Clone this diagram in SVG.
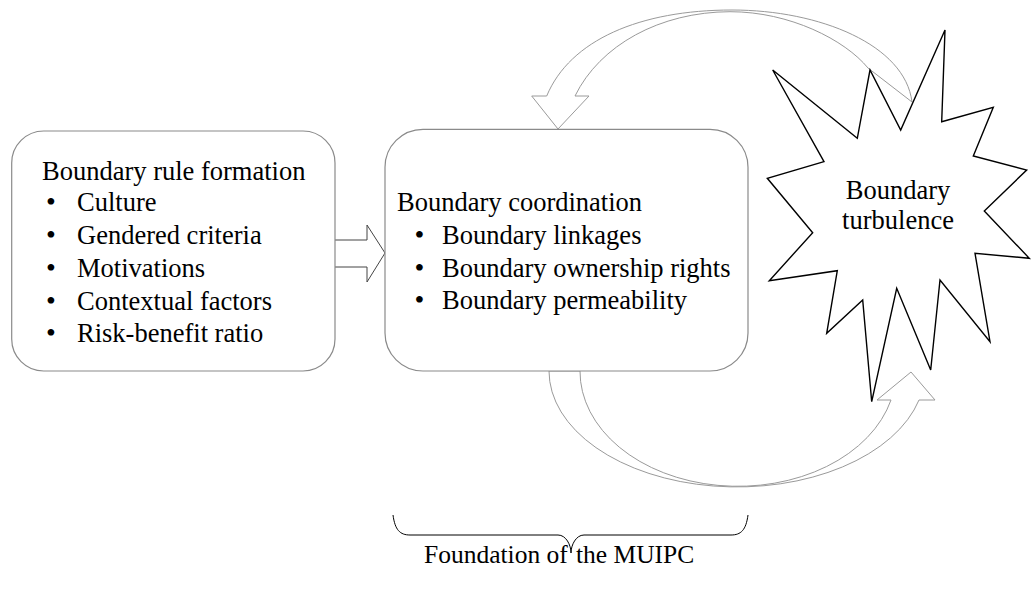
<svg xmlns="http://www.w3.org/2000/svg" width="1033" height="590" viewBox="0 0 1033 590">
<style>
text{font-family:"Liberation Serif","Times New Roman",serif;font-size:26.5px;fill:#000}
.box{fill:#fff;stroke:#8a8a8a;stroke-width:1.2}
.arr{fill:#fff;stroke:#9a9a9a;stroke-width:1}
.blk{fill:#fff;stroke:#444;stroke-width:1}
.star{fill:#fff;stroke:#000;stroke-width:1.4;stroke-linejoin:miter}
.bul{font-size:28px}
</style>
<rect width="1033" height="590" fill="#fff"/>
<g id="connectors">
  <path id="block-arrow" class="blk" d="M334,240 L367,240 L367,225 L385,253 L367,282 L367,267 L334,267 Z"/>
  <path id="upper-arrow" class="arr" d="M531.7,96 L546.7,96 C570,40 640,10 732,10 C820,10 905,45 912,102 L868,68 C845,40 790,11.7 730,11.7 C660,12 600,45 575,96 L589,96 L558,129 Z"/>
  <path id="lower-arrow" class="arr" d="M549,371 A188,116 0 0 0 919,400 L935,400 L911,372 L877,400 L891,400 A158,115 0 0 1 580,371 Z"/>
  <path id="brace" fill="none" stroke="#000" stroke-width="1" d="M393,515 C395,530 400,535 410,535 L558,535 C566,535 571,545 571,553 C571,545 576,535 584,535 L731,535 C741,535 746,530 748,515"/>
</g>
<g id="node-rule-formation">
  <rect class="box" x="11.7" y="131" width="323.3" height="240" rx="32" ry="32"/>
  <text x="42" y="180">Boundary rule formation</text>
  <text y="211"><tspan class="bul" x="46">•</tspan><tspan x="77">Culture</tspan></text>
  <text y="244"><tspan class="bul" x="46">•</tspan><tspan x="77">Gendered criteria</tspan></text>
  <text y="277"><tspan class="bul" x="46">•</tspan><tspan x="77">Motivations</tspan></text>
  <text y="310"><tspan class="bul" x="46">•</tspan><tspan x="77">Contextual factors</tspan></text>
  <text y="342"><tspan class="bul" x="46">•</tspan><tspan x="77">Risk-benefit ratio</tspan></text>
</g>
<g id="node-coordination">
  <rect class="box" x="385" y="129.3" width="363" height="241.7" rx="38" ry="38"/>
  <text x="397" y="211">Boundary coordination</text>
  <text y="243.5"><tspan class="bul" x="414.5">•</tspan><tspan x="442">Boundary linkages</tspan></text>
  <text y="276.5"><tspan class="bul" x="414.5">•</tspan><tspan x="442">Boundary ownership rights</tspan></text>
  <text y="308.5"><tspan class="bul" x="414.5">•</tspan><tspan x="442">Boundary permeability</tspan></text>
</g>
<g id="node-turbulence">
  <polygon class="star" points="945,30 941.7,121.7 993.3,107.3 973.3,156 1026.7,170 984.3,211 1029.3,258.3 975,253.3 990,341.7 940,280 930.7,370 896.7,288.3 871.7,401.7 862.7,300 826.7,333.3 837.3,270.7 769.3,280.7 812.7,232.7 767.3,178.3 824,161.7 772.7,70 857.3,138.3 870,70 900.7,130"/>
  <text x="898" y="199" text-anchor="middle">Boundary</text>
  <text x="898" y="229" text-anchor="middle">turbulence</text>
</g>
<g id="label-foundation">
  <text y="563" style="font-size:25.5px"><tspan x="424">Foundation of</tspan><tspan x="576">the MUIPC</tspan></text>
</g>
</svg>
